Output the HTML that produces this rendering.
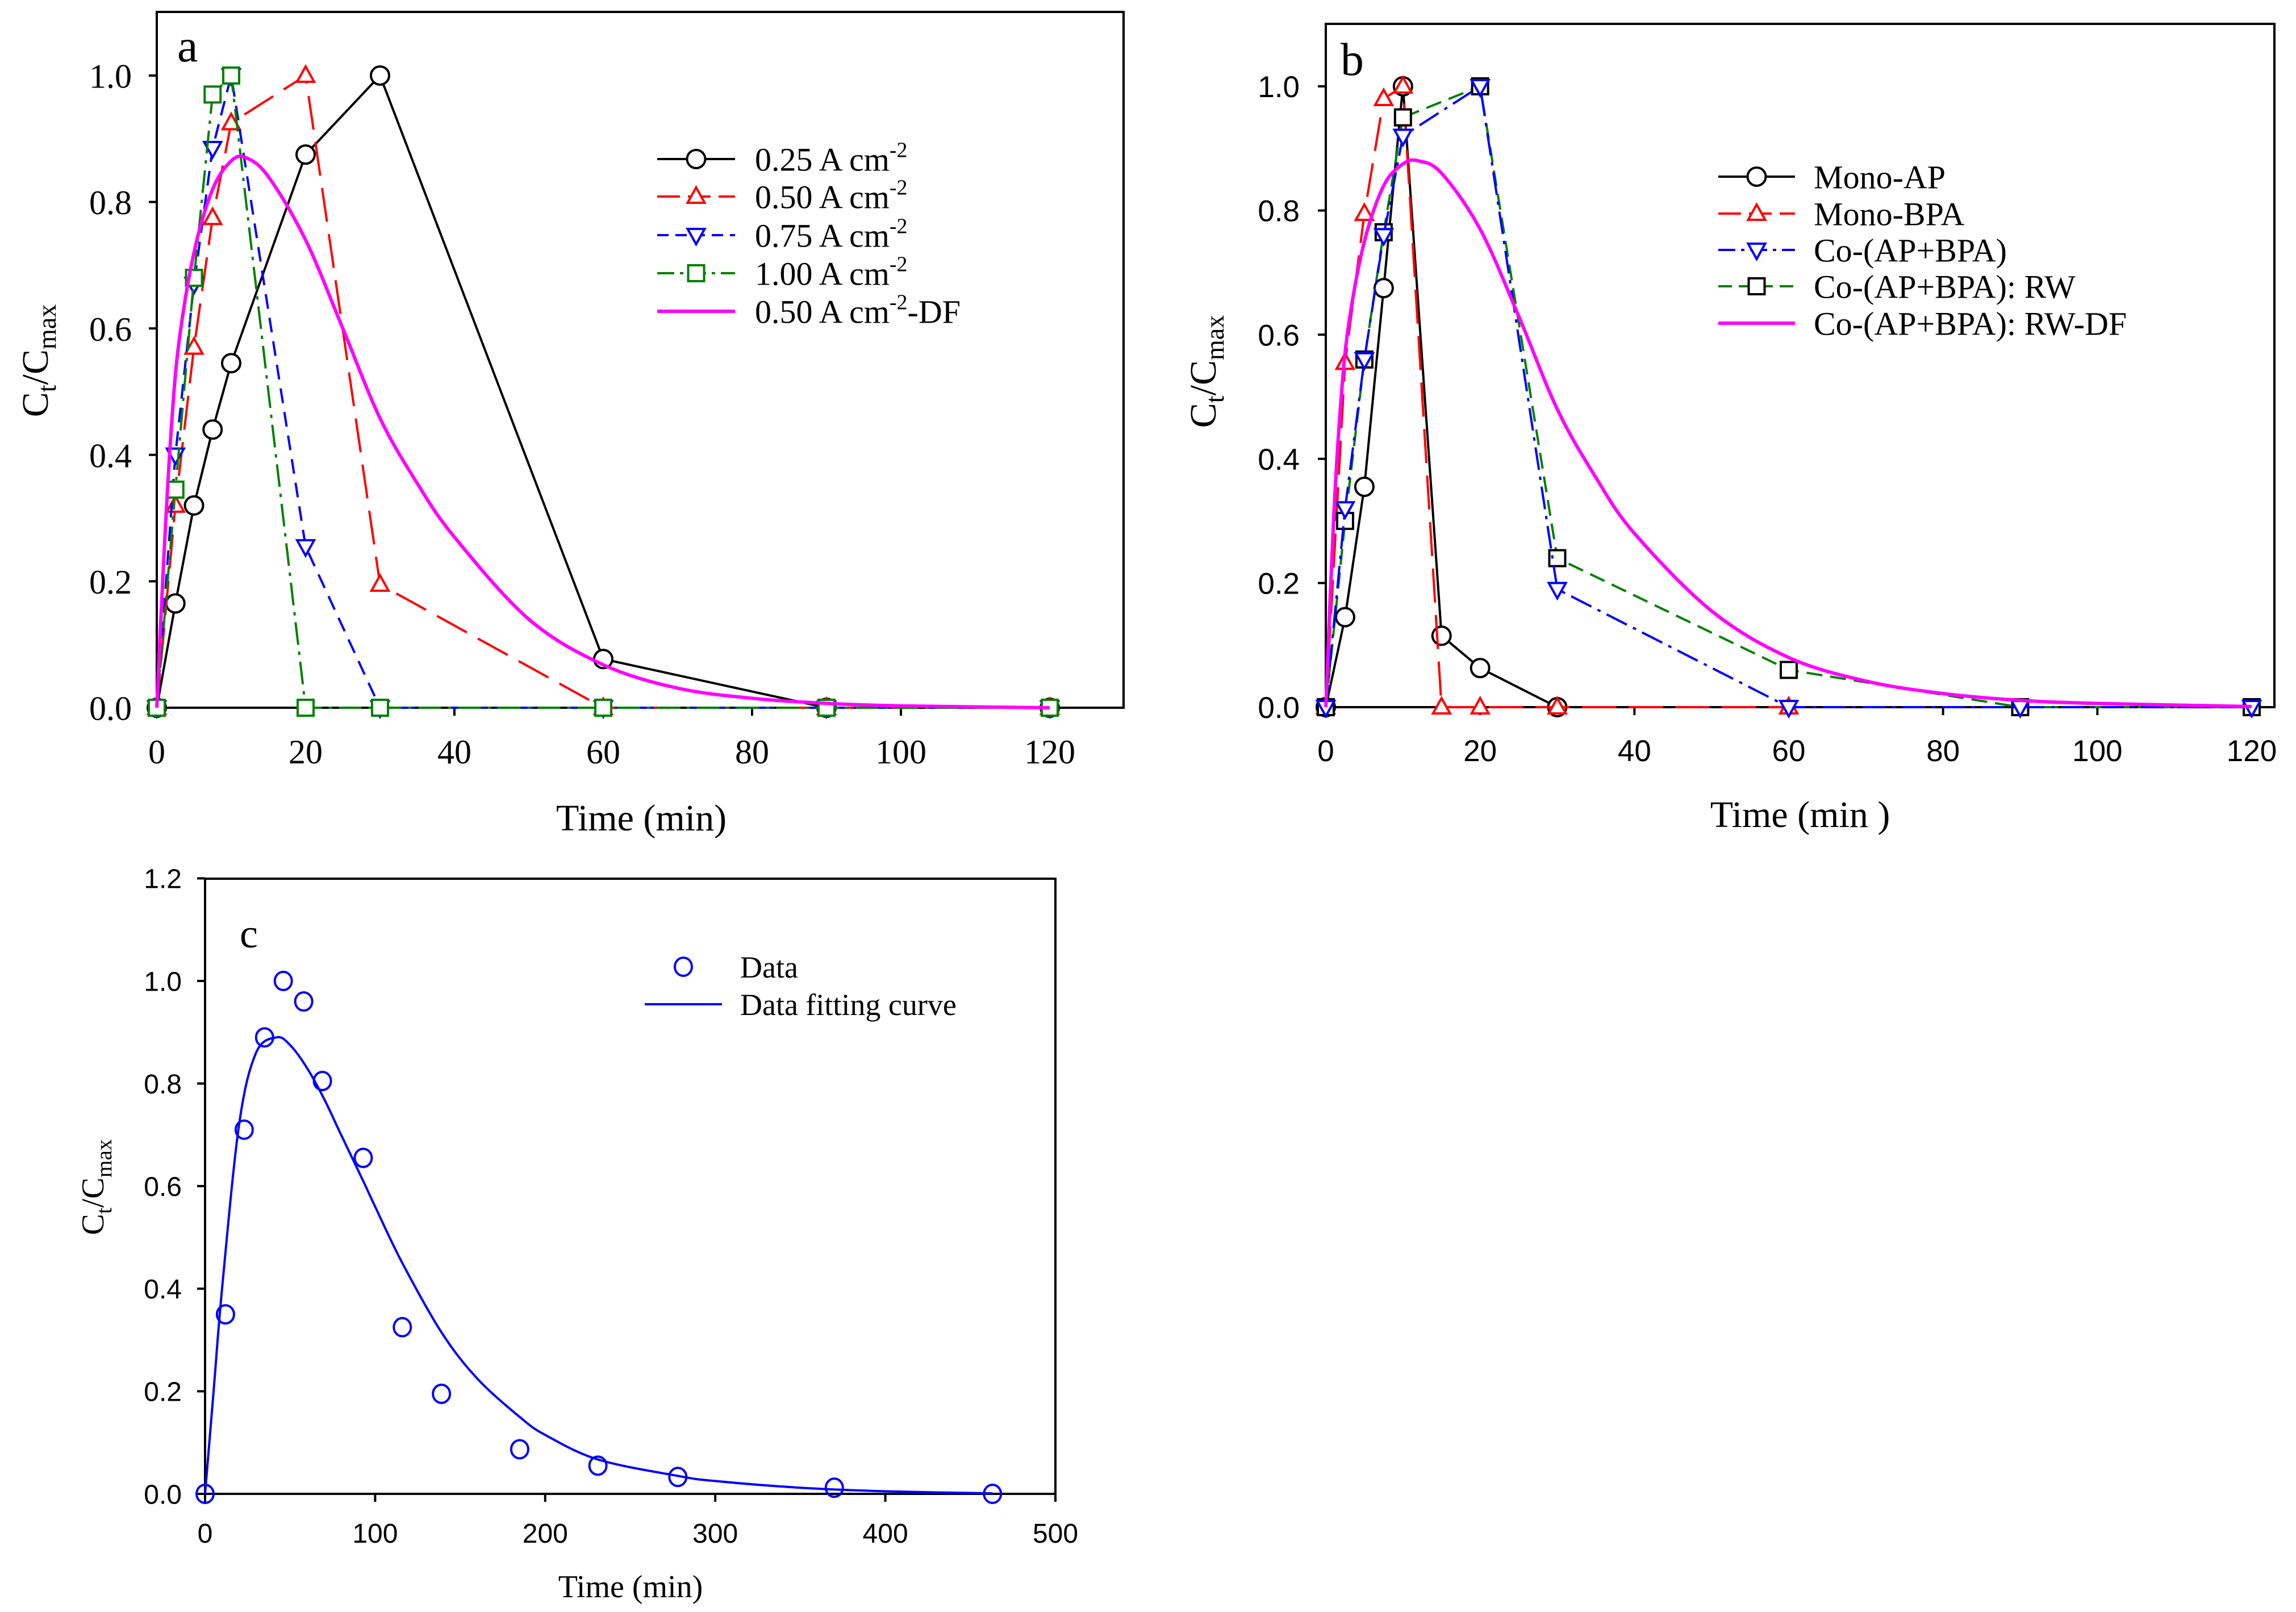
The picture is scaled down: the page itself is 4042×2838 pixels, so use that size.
<!DOCTYPE html>
<html><head><meta charset="utf-8"><style>
html,body{margin:0;padding:0;background:#fff}
svg{display:block}
</style></head><body>
<svg id="root" xmlns="http://www.w3.org/2000/svg" width="4042" height="2838" viewBox="0 0 4042 2838"></svg>
<script>
// ---------- Panel a data ----------
const aT = [0,2.5,5,7.5,10,20,30,60,90,120];
const a025 = [0,0.165,0.32,0.44,0.545,0.875,1.0,0.077,0,0];
const a050 = [0,0.32,0.57,0.775,0.925,1.0,0.195,0,0,0];
const a075 = [0,0.40,0.67,0.885,1.0,0.255,0,0,0,0];
const a100 = [0,0.345,0.68,0.97,1.0,0,0,0,0,0];
const aDfT = [0,1,2,3,5,7.5,10,12,15,20,25,30,35,40,50,60,70,80,90,100,120];
const aDfY = [0,0.25,0.45,0.58,0.72,0.82,0.865,0.87,0.84,0.74,0.6,0.458,0.355,0.27,0.14,0.068,0.031,0.015,0.007,0.003,0.0];
const aXTicks = [0,20,40,60,80,100,120];
const aYTicks = [0,0.2,0.4,0.6,0.8,1.0];
// ---------- Panel b data ----------
const bApT = [0,2.5,5,7.5,10,15,20,30];
const bApY = [0,0.145,0.355,0.675,1.0,0.115,0.063,0];
const bBpaT = [0,2.5,5,7.5,10,15,20,30,60];
const bBpaY = [0,0.555,0.795,0.98,1.0,0,0,0,0];
const bCoT = [0,2.5,5,7.5,10,20,30,60,90,120];
const bCoY = [0,0.32,0.56,0.76,0.92,1.0,0.19,0,0,0];
const bRwY = [0,0.30,0.56,0.765,0.95,1.0,0.24,0.06,0,0];
const bDfT = [0,1,2,3,5,7.5,10,12,15,20,25,30,35,40,50,60,70,80,90,100,120];
const bDfY = [0,0.3,0.5,0.62,0.75,0.84,0.875,0.88,0.86,0.77,0.63,0.48,0.37,0.28,0.155,0.08,0.042,0.022,0.011,0.006,0.001];
const bXTicks = [0,20,40,60,80,100,120];
const bYTicks = [0,0.2,0.4,0.6,0.8,1.0];
// ---------- Panel c data ----------
const cT = [0,12,23,35,46,58,69,93,116,139,185,231,278,370,463];
const cY = [0,0.35,0.71,0.89,1.0,0.96,0.805,0.655,0.325,0.195,0.087,0.055,0.033,0.012,0];
const cFitT = [0,5,10,20,30,42,50,60,70,80,93,100,116,139,160,185,200,231,278,300,350,400,463];
const cFitY = [0,0.2,0.4,0.72,0.86,0.89,0.875,0.83,0.77,0.70,0.61,0.56,0.45,0.315,0.225,0.15,0.115,0.067,0.035,0.025,0.012,0.005,0.001];
const cXTicks = [0,100,200,300,400,500];
const cYTicks = [0,0.2,0.4,0.6,0.8,1.0,1.2];

const NS = "http://www.w3.org/2000/svg";
const root = document.getElementById('root');
function mk(tag, attrs, parent){
  const e = document.createElementNS(NS, tag);
  for (const k in attrs) e.setAttribute(k, attrs[k]);
  (parent||root).appendChild(e);
  return e;
}
function lin(d0,d1,r0,r1){ return v => r0 + (v-d0)*(r1-r0)/(d1-d0); }

function smoothPath(P){
  let d = 'M'+P[0][0].toFixed(1)+','+P[0][1].toFixed(1);
  for (let i=0;i<P.length-1;i++){
    const p0=P[i-1]||P[i], p1=P[i], p2=P[i+1], p3=P[i+2]||P[i+1];
    const c1=[p1[0]+(p2[0]-p0[0])/6, p1[1]+(p2[1]-p0[1])/6];
    const c2=[p2[0]-(p3[0]-p1[0])/6, p2[1]-(p3[1]-p1[1])/6];
    d += ' C'+c1[0].toFixed(1)+','+c1[1].toFixed(1)+' '+c2[0].toFixed(1)+','+c2[1].toFixed(1)+' '+p2[0].toFixed(1)+','+p2[1].toFixed(1);
  }
  return d;
}

function marker(g, type, x, y, color){
  let e;
  if (type==='circle'){ e = mk('circle',{cx:x,cy:y,r:16,fill:'#fff',stroke:color,'stroke-width':4},g); }
  else if (type==='square'){ e = mk('rect',{x:x-14,y:y-14,width:28,height:28,fill:'#fff',stroke:color,'stroke-width':4},g); }
  else if (type==='up'){ e = mk('polygon',{points:`${x},${y-16} ${x-15},${y+11} ${x+15},${y+11}`,fill:'#fff',stroke:color,'stroke-width':4},g); }
  else if (type==='down'){ e = mk('polygon',{points:`${x},${y+16} ${x-15},${y-11} ${x+15},${y-11}`,fill:'#fff',stroke:color,'stroke-width':4},g); }
  else if (type==='ellipse'){ e = mk('ellipse',{cx:x,cy:y,rx:15,ry:16,fill:'none',stroke:color,'stroke-width':4},g); }
  return e;
}

function axes(p){
  const g = mk('g',{});
  
  
  const fr = mk('rect',{x:p.L,y:p.T,width:p.R-p.L,height:p.B-p.T,fill:'none',stroke:'#000','stroke-width':4},g);
  
  
  p.xt.forEach(v=>{
    const x = p.sx(v);
    mk('line',{x1:x,y1:p.B,x2:x,y2:p.B+14,stroke:'#000','stroke-width':4},g);
    const t = mk('text',{x:x,y:p.xlabY,'text-anchor':'middle','font-family':p.tickFont,'font-size':p.tickSize},g);
    t.textContent = String(v);
    
    
  });
  p.yt.forEach(v=>{
    const y = p.sy(v);
    mk('line',{x1:p.L-14,y1:y,x2:p.L,y2:y,stroke:'#000','stroke-width':4},g);
    const t = mk('text',{x:p.ylabX,y:y+p.tickSize*0.36,'text-anchor':'end','font-family':p.tickFont,'font-size':p.tickSize},g);
    t.textContent = v.toFixed(1);
    
    
  });
  const xt = mk('text',{x:p.xTitleX,y:p.xTitleY,'text-anchor':'middle','font-family':'Liberation Serif, serif','font-size':p.titleSize},g);
  xt.textContent = p.xTitle;
  
  
  const yt = mk('text',{x:0,y:0,'text-anchor':'middle','font-family':'Liberation Serif, serif','font-size':p.titleSize,transform:`translate(${p.yTitleX},${p.yTitleY}) rotate(-90)`},g);
  
  
  yt.innerHTML = 'C<tspan dy="14" font-size="'+(p.titleSize*0.7)+'">t</tspan><tspan dy="-14">/C</tspan><tspan dy="14" font-size="'+(p.titleSize*0.7)+'">max</tspan>';
  const lt = mk('text',{x:p.letterX,y:p.letterY,'font-family':'Liberation Serif, serif','font-size':p.letterSize},g);
  lt.textContent = p.letter;
  
  
}

function series(p, name, ts, ys, color, dash, mtype, width, smooth, mcolor){
  const g = mk('g',{});
  
  
  const P = ts.map((t,i)=>[p.sx(t), p.sy(ys[i])]);
  let pl;
  if (smooth){
    pl = mk('path',{d:smoothPath(P),fill:'none',stroke:color,'stroke-width':width||4},g);
  } else {
    pl = mk('polyline',{points:P.map(q=>q[0].toFixed(1)+','+q[1].toFixed(1)).join(' '),fill:'none',stroke:color,'stroke-width':width||4,'stroke-dasharray':dash||'none','stroke-linejoin':'round'},g);
  }
  
  
  if (mtype){
    P.forEach(q=>{
      const m = marker(g, mtype, q[0], q[1], mcolor||color);
      
      
    });
  }
}

function legend(p, entries){
  const g = mk('g',{});
  
  
  entries.forEach(en=>{
    const eg = mk('g',{},g);
    
    
    if (en.line!==false) mk('line',{x1:p.lgX1,y1:en.y,x2:p.lgX2,y2:en.y,stroke:en.color,'stroke-width':en.w||4,'stroke-dasharray':en.dash||'none'},eg);
    if (en.m) marker(eg,en.m,(p.lgX1+p.lgX2)/2,en.y,en.mc||en.color);
    const t = mk('text',{x:p.lgTX,y:en.y+p.lgSize*0.35,'font-family':'Liberation Serif, serif','font-size':p.lgSize},eg);
    t.innerHTML = en.label;
  });
}

// ---------- Panel a ----------
const pa = {name:'panel-a',L:276,R:1978,T:21,B:1246,sx:lin(0,120,276,1848),sy:lin(0,1,1246,133),
  xt:aXTicks,yt:aYTicks,tickFont:'Liberation Serif, serif',tickSize:60,xlabY:1344,ylabX:232,
  xTitle:'Time (min)',xTitleX:1129,xTitleY:1462,titleSize:66,yTitleX:84,yTitleY:635,
  letter:'a',letterX:312,letterY:108,letterSize:82,lgX1:1157,lgX2:1294,lgTX:1329,lgSize:58};
axes(pa);
series(pa,'series-0.25',aT,a025,'#000',null,'circle');
series(pa,'series-0.50',aT,a050,'#ff0000','60 22','up');
series(pa,'series-0.75',aT,a075,'#0000ff','26 16','down');
series(pa,'series-1.00',aT,a100,'#008000','40 12 6 12','square');
series(pa,'series-0.50-DF',aDfT,aDfY,'#ff00ff',null,null,6,true);
const sup = s=>s+'<tspan dy="-24" font-size="38">-2</tspan>';
legend(pa,[
  {y:280,color:'#000',m:'circle',label:sup('0.25 A cm')},
  {y:346,color:'#ff0000',m:'up',dash:'40 14',label:sup('0.50 A cm')},
  {y:414,color:'#0000ff',m:'down',dash:'20 12',label:sup('0.75 A cm')},
  {y:481,color:'#008000',m:'square',dash:'30 10 6 10',label:sup('1.00 A cm')},
  {y:548,color:'#ff00ff',w:6,label:'0.50 A cm<tspan dy="-24" font-size="38">-2</tspan><tspan dy="24">-DF</tspan>'}
]);

// ---------- Panel b ----------
const pb = {name:'panel-b',L:2334,R:4004,T:42,B:1245,sx:lin(0,120,2334,3964),sy:lin(0,1,1245,152),
  xt:bXTicks,yt:bYTicks,tickFont:'Liberation Sans, sans-serif',tickSize:53,xlabY:1340,ylabX:2288,
  xTitle:'Time (min )',xTitleX:3169,xTitleY:1456,titleSize:66,yTitleX:2140,yTitleY:654,
  letter:'b',letterX:2360,letterY:132,letterSize:82,lgX1:3025,lgX2:3160,lgTX:3193,lgSize:58};
axes(pb);
series(pb,'series-mono-ap',bApT,bApY,'#000',null,'circle');
series(pb,'series-mono-bpa',bBpaT,bBpaY,'#ff0000','60 22','up');
series(pb,'series-co-rw',bCoT,bRwY,'#008000','28 14','square',4,false,'#000');
series(pb,'series-co-ap-bpa',bCoT,bCoY,'#0000ff','40 12 6 12','down');
series(pb,'series-co-rw-df',bDfT,bDfY,'#ff00ff',null,null,6,true);
legend(pb,[
  {y:311,color:'#000',m:'circle',label:'Mono-AP'},
  {y:376,color:'#ff0000',m:'up',dash:'40 14',label:'Mono-BPA'},
  {y:440,color:'#0000ff',m:'down',dash:'30 10 6 10',label:'Co-(AP+BPA)'},
  {y:504,color:'#008000',m:'square',mc:'#000',dash:'24 12',label:'Co-(AP+BPA): RW'},
  {y:569,color:'#ff00ff',w:6,label:'Co-(AP+BPA): RW-DF'}
]);

// ---------- Panel c ----------
const pc = {name:'panel-c',L:361,R:1858,T:1547,B:2630,sx:lin(0,500,361,1858),sy:lin(0,1,2630,1727),
  xt:cXTicks,yt:cYTicks,tickFont:'Liberation Sans, sans-serif',tickSize:48,xlabY:2716,ylabX:320,
  xTitle:'Time (min)',xTitleX:1110,xTitleY:2812,titleSize:56,yTitleX:182,yTitleY:2090,
  letter:'c',letterX:422,letterY:1668,letterSize:72,lgX1:1135,lgX2:1271,lgTX:1303,lgSize:54};
axes(pc);
series(pc,'series-fit-curve',cFitT,cFitY,'#0000ff',null,null,4,true);
(function(){
  const g = mk('g',{});
  
  
  cT.forEach((t,i)=>{
    const m = marker(g,'ellipse',pc.sx(t),pc.sy(cY[i]),'#0000ff');
    
    
  });
})();
legend(pc,[
  {y:1702,color:'#0000ff',m:'ellipse',line:false,label:'Data'},
  {y:1768,color:'#0000ff',label:'Data fitting curve'}
]);
</script>
</body></html>
